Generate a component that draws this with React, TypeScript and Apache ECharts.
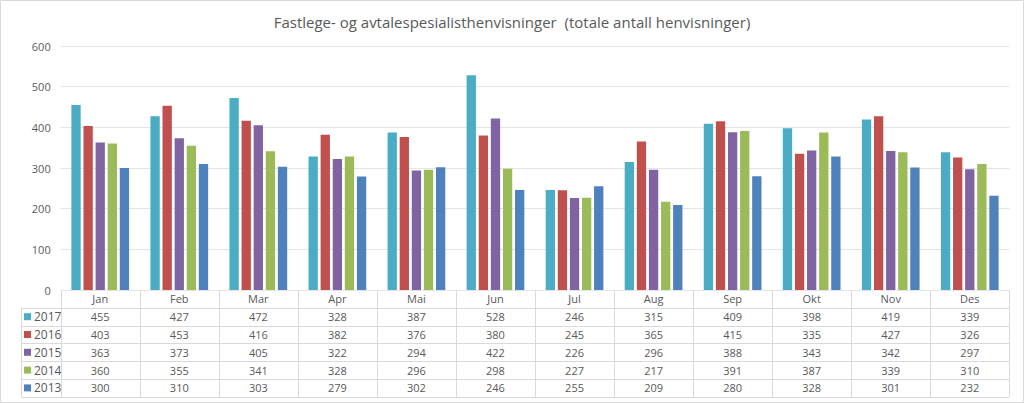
import React, { useEffect, useRef } from "react";
import * as echarts from "echarts";

const months = ["Jan", "Feb", "Mar", "Apr", "Mai", "Jun", "Jul", "Aug", "Sep", "Okt", "Nov", "Des"];
const years = ["2017", "2016", "2015", "2014", "2013"];
const v2017 = [455, 427, 472, 328, 387, 528, 246, 315, 409, 398, 419, 339];
const v2016 = [403, 453, 416, 382, 376, 380, 245, 365, 415, 335, 427, 326];
const v2015 = [363, 373, 405, 322, 294, 422, 226, 296, 388, 343, 342, 297];
const v2014 = [360, 355, 341, 328, 296, 298, 227, 217, 391, 387, 339, 310];
const v2013 = [300, 310, 303, 279, 302, 246, 255, 209, 280, 328, 301, 232];
const colors = ["#4BACC6", "#C0504D", "#8064A2", "#9BBB59", "#4F81BD"];
const yTicks = [0, 100, 200, 300, 400, 500, 600];

const W = 1024;
const H = 403;
const gridLeft = 60.7;
const gridRight = 1009.3;
const gridTop = 46;
const gridBottomY = 290;
const rowH = 17.8;
const tableLeft = 21.5;
const font = "'Open Sans', 'Noto Sans', sans-serif";
const textColor = "#595959";
const lineColor = "#d9d9d9";

export default function App() {
  const ref = useRef<HTMLDivElement>(null);
  useEffect(() => {
    document.body.style.margin = "0";
    const chart = echarts.init(ref.current!, null, { renderer: "svg" });
    const all = [v2017, v2016, v2015, v2014, v2013];
    const colW = (gridRight - gridLeft) / months.length;
    const graphics: any[] = [];
    const tableBottom = gridBottomY + rowH * (years.length + 1);
    // horizontal lines
    graphics.push({ type: "line", shape: { x1: gridLeft, y1: gridBottomY + 0.5, x2: gridRight, y2: gridBottomY + 0.5 }, style: { stroke: lineColor, lineWidth: 1 } });
    for (let r = 1; r <= years.length + 1; r++) {
      const y = Math.round(gridBottomY + rowH * r) + 0.5;
      graphics.push({ type: "line", shape: { x1: tableLeft, y1: y, x2: gridRight, y2: y }, style: { stroke: lineColor, lineWidth: 1 } });
    }
    // vertical lines
    for (let c = 0; c <= months.length; c++) {
      const x = Math.round(gridLeft + colW * c) + 0.5;
      graphics.push({ type: "line", shape: { x1: x, y1: gridBottomY, x2: x, y2: tableBottom }, style: { stroke: lineColor, lineWidth: 1 } });
    }
    graphics.push({ type: "line", shape: { x1: tableLeft, y1: gridBottomY + rowH, x2: tableLeft, y2: tableBottom }, style: { stroke: lineColor, lineWidth: 1 } });
    // header
    months.forEach((m, c) => {
      graphics.push({ type: "text", x: gridLeft + colW * (c + 0.5), y: gridBottomY + rowH / 2, style: { text: m, fill: textColor, font: `11px ${font}`, align: "center", verticalAlign: "middle" } });
    });
    years.forEach((yr, r) => {
      const cy = gridBottomY + rowH * (r + 1.5);
      graphics.push({ type: "rect", shape: { x: 24, y: cy - 3.5, width: 7, height: 7 }, style: { fill: colors[r] } });
      graphics.push({ type: "text", x: 34, y: cy, style: { text: yr, fill: textColor, font: `12px ${font}`, align: "left", verticalAlign: "middle" } });
      all[r].forEach((v, c) => {
        graphics.push({ type: "text", x: gridLeft + colW * (c + 0.5), y: cy, style: { text: String(v), fill: textColor, font: `11px ${font}`, align: "center", verticalAlign: "middle" } });
      });
    });
    graphics.push({ type: "rect", shape: { x: 0.5, y: 0.5, width: W - 1, height: H - 1 }, style: { fill: "none", stroke: lineColor, lineWidth: 1 } });

    chart.setOption({
      animation: false,
      color: colors,
      title: {
        text: "Fastlege- og avtalespesialisthenvisninger  (totale antall henvisninger)",
        left: "center",
        top: 9,
        textStyle: { fontFamily: font, fontSize: 15, fontWeight: "normal", color: textColor },
      },
      grid: { left: gridLeft, right: W - gridRight, top: gridTop, bottom: H - gridBottomY },
      xAxis: {
        type: "category",
        data: months,
        axisLine: { show: false },
        axisTick: { show: false },
        axisLabel: { show: false },
      },
      yAxis: {
        type: "value",
        min: yTicks[0],
        max: yTicks[yTicks.length - 1],
        interval: 100,
        axisLine: { show: false },
        axisTick: { show: false },
        axisLabel: { color: textColor, fontFamily: font, fontSize: 11, margin: 10 },
        splitLine: { lineStyle: { color: "#e4e4e4" } },
      },
      series: years.map((y, i) => ({
        name: y,
        type: "bar",
        data: all[i],
        barGap: "30%",
        barCategoryGap: "27%",
        itemStyle: { color: colors[i] },
      })),
      graphic: graphics,
    });
    return () => chart.dispose();
  }, []);
  return <div ref={ref} style={{ width: W, height: H }} />;
}
